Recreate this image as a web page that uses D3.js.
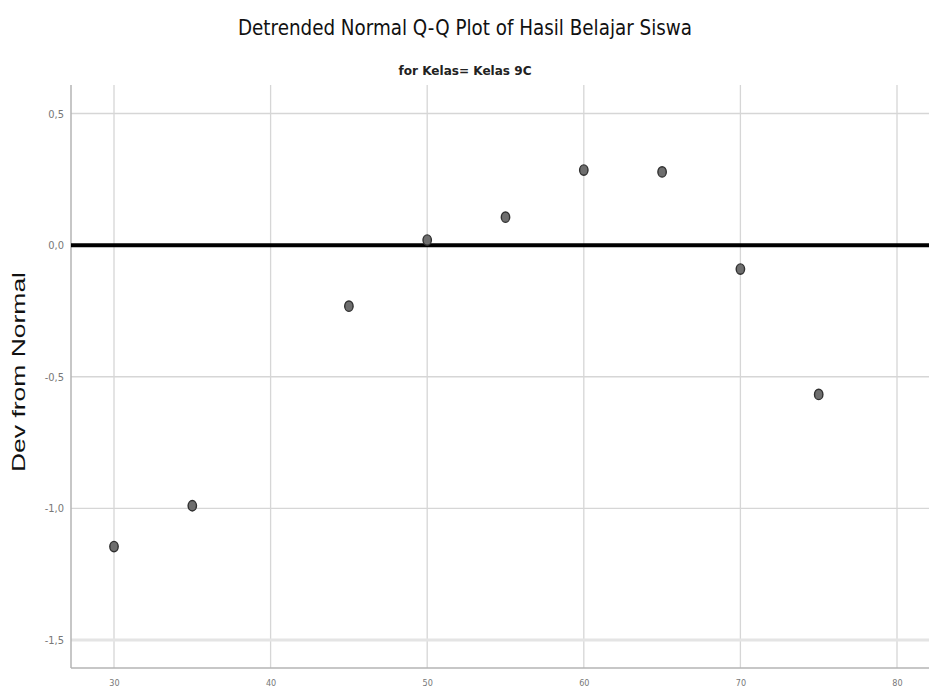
<!DOCTYPE html>
<html>
<head>
<meta charset="utf-8">
<script src="https://cdn.jsdelivr.net/npm/d3@7"></script>
<style>
  html, body { margin: 0; padding: 0; background: #fff; }
  svg { display: block; }
</style>
</head>
<body>
<script>
// Detrended normal Q-Q data: observed score vs. deviation from normal
const scores = [30, 35, 45, 50, 55, 60, 65, 70, 75];
const deviations = [-1.145, -0.99, -0.232, 0.019, 0.106, 0.285, 0.278, -0.091, -0.567];
const xTicks = [30, 40, 50, 60, 70, 80];
const yTicks = [0.5, 0.0, -0.5, -1.0, -1.5];

const W = 929, H = 690;
const plotLeft = 71, plotRight = 929, plotTop = 85, plotBottom = 668;

const svg = d3.select("body").append("svg")
  .attr("width", W).attr("height", H);

const x = d3.scaleLinear().domain([30, 80]).range([114, 897]);
const y = d3.scaleLinear().domain([0.5, -1.5]).range([113.5, 640]);

const locale = d3.formatLocale({ decimal: ",", thousands: ".", grouping: [3], currency: ["", ""], minus: "-" });
const fmt = locale.format(".1f");

// grid
const grid = svg.append("g");
grid.selectAll("line.v").data(xTicks).join("line")
  .attr("x1", d => x(d)).attr("x2", d => x(d))
  .attr("y1", plotTop).attr("y2", plotBottom)
  .attr("stroke", "#d6d6d6").attr("stroke-width", 1.3);
grid.selectAll("line.h").data(yTicks).join("line")
  .attr("x1", plotLeft).attr("x2", plotRight)
  .attr("y1", d => y(d)).attr("y2", d => y(d))
  .attr("stroke", d => d === -1.5 ? "#e4e4e4" : "#d6d6d6")
  .attr("stroke-width", d => d === -1.5 ? 3 : 1.3);

// axis frame
svg.append("line").attr("x1", plotLeft).attr("x2", plotLeft).attr("y1", plotTop).attr("y2", plotBottom)
  .attr("stroke", "#b4b4b4").attr("stroke-width", 1.5);
svg.append("line").attr("x1", plotLeft).attr("x2", plotRight).attr("y1", plotBottom).attr("y2", plotBottom)
  .attr("stroke", "#b4b4b4").attr("stroke-width", 1.5);

// y tick labels
const yAxis = svg.append("g").attr("transform", `translate(${plotLeft},0)`)
  .call(d3.axisLeft(y).tickValues(yTicks).tickFormat(fmt).tickSize(0).tickPadding(7));
yAxis.select(".domain").remove();
yAxis.selectAll("text")
  .attr("font-family", "'Liberation Sans Narrow', 'DejaVu Sans Condensed', sans-serif")
  .attr("font-size", 11).attr("fill", "#777");

// x tick labels
const xAxis = svg.append("g").attr("transform", `translate(0,${plotBottom})`)
  .call(d3.axisBottom(x).tickValues(xTicks).tickFormat(d3.format("d")).tickSize(0).tickPadding(12));
xAxis.select(".domain").remove();
xAxis.selectAll("text")
  .attr("font-family", "'Liberation Sans Narrow', 'DejaVu Sans Condensed', sans-serif")
  .attr("font-size", 9).attr("fill", "#777");

// zero reference line
svg.append("line")
  .attr("x1", plotLeft).attr("x2", plotRight)
  .attr("y1", y(0)).attr("y2", y(0))
  .attr("stroke", "#000").attr("stroke-width", 4);

// points
svg.append("g").selectAll("ellipse").data(scores).join("ellipse")
  .attr("cx", (d) => x(d))
  .attr("cy", (d, i) => y(deviations[i]))
  .attr("rx", 4.2).attr("ry", 5.2)
  .attr("fill", "#6e6e6e").attr("stroke", "#303030").attr("stroke-width", 1.4);

// titles
svg.append("text")
  .attr("x", 465).attr("y", 35).attr("text-anchor", "middle")
  .attr("font-family", "'Liberation Sans Narrow', 'DejaVu Sans Condensed', sans-serif")
  .attr("font-size", 21).attr("fill", "#111")
  .attr("textLength", 454).attr("lengthAdjust", "spacingAndGlyphs")
  .text("Detrended Normal Q-Q Plot of Hasil Belajar Siswa");

svg.append("text")
  .attr("x", 465).attr("y", 75).attr("text-anchor", "middle")
  .attr("font-family", "'Liberation Sans Narrow', 'DejaVu Sans Condensed', sans-serif")
  .attr("font-size", 13).attr("font-weight", "bold").attr("fill", "#222")
  .attr("textLength", 133).attr("lengthAdjust", "spacingAndGlyphs")
  .text("for Kelas= Kelas 9C");

// y axis title
svg.append("text")
  .attr("transform", "translate(25,372) rotate(-90)")
  .attr("text-anchor", "middle")
  .attr("font-family", "'Liberation Sans', Arial, sans-serif")
  .attr("font-size", 18).attr("fill", "#111")
  .attr("textLength", 200).attr("lengthAdjust", "spacingAndGlyphs")
  .text("Dev from Normal");
</script>
</body>
</html>
